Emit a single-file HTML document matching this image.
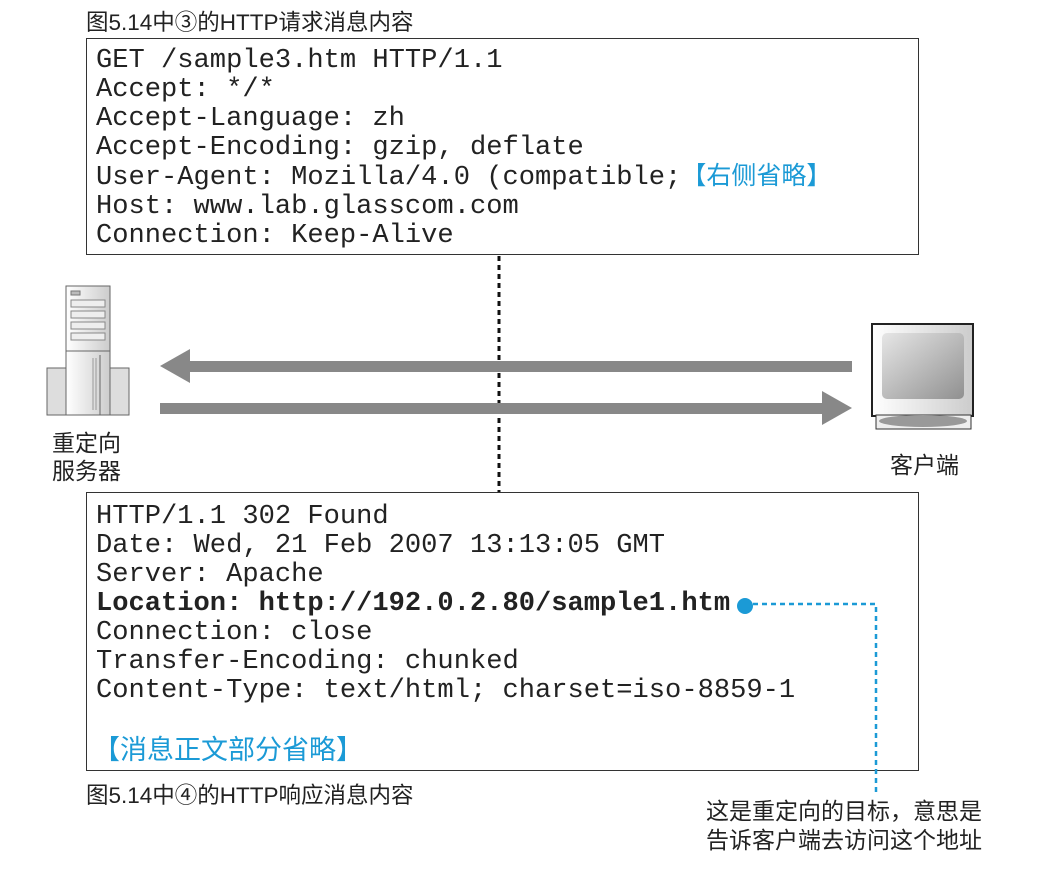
<!DOCTYPE html>
<html><head><meta charset="utf-8"><style>
body{margin:0;width:1050px;height:872px;background:#fff;position:relative;font-family:"Liberation Sans","Noto Sans CJK SC",sans-serif;overflow:hidden}
.a{position:absolute}
.box{position:absolute;border:1.5px solid #333;box-sizing:border-box;left:86px;width:833px}
.mono{font-family:"Liberation Mono","Noto Sans CJK SC",monospace;font-size:27.1px;line-height:29px;color:#222;white-space:pre;position:absolute;left:9px}
.blue{color:#1b9ad6;font-family:"Liberation Sans","Noto Sans CJK SC",sans-serif}
.cap{font-size:22.5px;color:#222;white-space:nowrap}
</style></head><body>
<div class="a cap" style="left:86px;top:5px">图5.14中③的HTTP请求消息内容</div>
<div class="box" style="top:38px;height:217px">
<div class="mono" style="top:7px">GET /sample3.htm HTTP/1.1
Accept: */*
Accept-Language: zh
Accept-Encoding: gzip, deflate
User-Agent: Mozilla/4.0 (compatible;<span class="blue" style="font-size:25px">【右侧省略】</span>
Host: www.lab.glasscom.com
Connection: Keep-Alive</div>
</div>
<div class="box" style="top:492px;height:279px">
<div class="mono" style="top:9px">HTTP/1.1 302 Found
Date: Wed, 21 Feb 2007 13:13:05 GMT
Server: Apache
<b>Location: http://192.0.2.80/sample1.htm</b>
Connection: close
Transfer-Encoding: chunked
Content-Type: text/html; charset=iso-8859-1</div>
<div class="a blue" style="left:6px;top:235px;font-size:27px;white-space:nowrap">【消息正文部分省略】</div>
</div>
<div class="a cap" style="left:86px;top:778px">图5.14中④的HTTP响应消息内容</div>
<div class="a cap" style="left:706px;top:797px;line-height:29px;font-size:23px">这是重定向的目标，意思是<br>告诉客户端去访问这个地址</div>
<div class="a cap" style="left:52px;top:429px;line-height:28px;font-size:23px">重定向<br>服务器</div>
<div class="a cap" style="left:890px;top:446px;font-size:23px">客户端</div>
<svg class="a" style="left:0;top:0" width="1050" height="872">
<defs><linearGradient id="g" x1="0" y1="0" x2="1" y2="1"><stop offset="0" stop-color="#e6e6e6"/><stop offset="1" stop-color="#909090"/></linearGradient>
<linearGradient id="s" x1="0" x2="1"><stop offset="0" stop-color="#fff"/><stop offset="1" stop-color="#ccc"/></linearGradient></defs>
<line x1="499" y1="256" x2="499" y2="492" stroke="#111" stroke-width="3" stroke-dasharray="5,4"/>
<rect x="188" y="361" width="664" height="11" fill="#888"/>
<polygon points="160,366 190,349 190,383" fill="#888"/>
<rect x="160" y="403" width="668" height="11" fill="#888"/>
<polygon points="852,408 822,391 822,425" fill="#888"/>
<circle cx="745" cy="606" r="8" fill="#1b9ad6"/>
<polyline points="753,604 876,604 876,792" fill="none" stroke="#1b9ad6" stroke-width="2.5" stroke-dasharray="5,4"/>
<rect x="47" y="368" width="82" height="47" fill="#ddd" stroke="#666"/>
<rect x="66" y="286" width="44" height="129" fill="url(#s)" stroke="#666"/>
<rect x="71" y="291" width="9" height="4" fill="#bbb" stroke="#777"/>
<rect x="71" y="300" width="34" height="7" fill="#eee" stroke="#888"/>
<rect x="71" y="311" width="34" height="7" fill="#eee" stroke="#888"/>
<rect x="71" y="322" width="34" height="7" fill="#eee" stroke="#888"/>
<rect x="71" y="333" width="34" height="7" fill="#eee" stroke="#888"/>
<line x1="66" y1="351" x2="110" y2="351" stroke="#666"/>
<line x1="100" y1="355" x2="100" y2="415" stroke="#666"/>
<line x1="93" y1="358" x2="93" y2="410" stroke="#999"/>
<line x1="96" y1="358" x2="96" y2="410" stroke="#999"/>
<rect x="872" y="324" width="101" height="92" fill="url(#s)" stroke="#222" stroke-width="2"/>
<rect x="882" y="333" width="82" height="66" rx="5" fill="url(#g)"/>
<rect x="876" y="415" width="95" height="14" fill="#eee" stroke="#333"/>
<ellipse cx="923" cy="421" rx="44" ry="6" fill="#999"/>
</svg>
</body></html>
